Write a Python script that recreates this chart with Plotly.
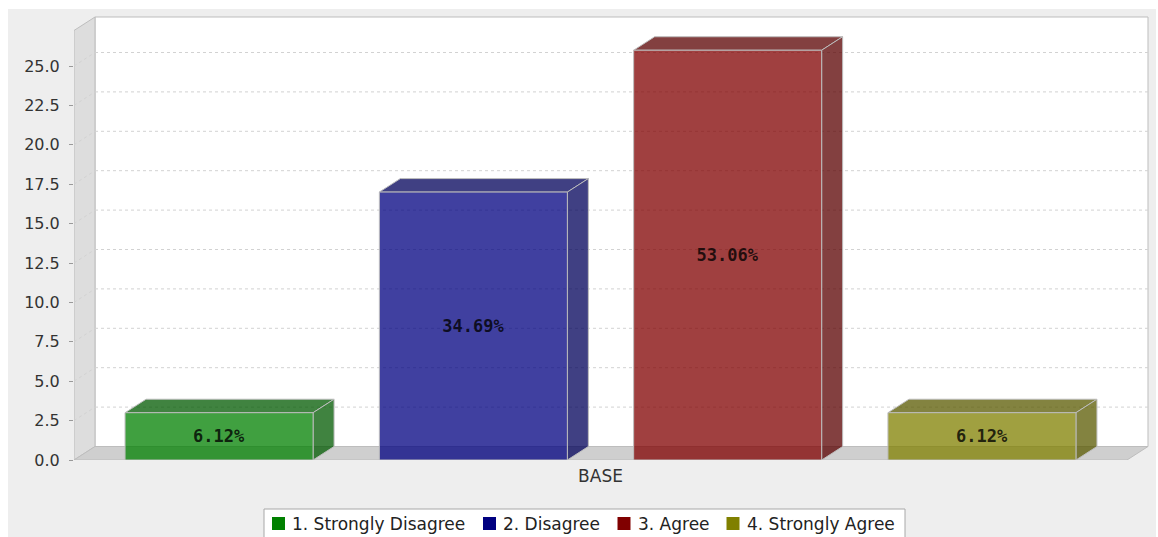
import plotly.graph_objects as go

# ---- data -------------------------------------------------------------
categories = ["1. Strongly Disagree", "2. Disagree", "3. Agree", "4. Strongly Agree"]
counts = [3, 17, 26, 3]
axis_category = "BASE"
series_rgb = [(0, 128, 0), (0, 0, 128), (128, 0, 0), (128, 128, 0)]
y_ticks = [0.0, 2.5, 5.0, 7.5, 10.0, 12.5, 15.0, 17.5, 20.0, 22.5, 25.0]

# ---- geometry ---------------------------------------------------------
FIG_W, FIG_H = 1158, 537
ML, MR, MT, MB = 74, 8, 15, 77
PW = FIG_W - ML - MR            # plot width in px (x axis runs in px units)
PH = FIG_H - MT - MB            # plot height in px
PX_PER_UNIT = 15.76             # vertical px per value unit
Y_MAX = PH / PX_PER_UNIT
DX = 21                         # 3D depth, horizontal (x units)
DY = 13.5 / PX_PER_UNIT         # 3D depth, vertical (value units)
WALL_RIGHT = PW - 2
WALL_TOP = (PH - 2) / PX_PER_UNIT
FRONT_W = WALL_RIGHT - DX
FRONT_TOP = WALL_TOP - DY
BAR_W = 188
STEP = 254.3
ALPHA = 0.75

total = sum(counts)
centers = [FRONT_W / 2 + (i - (len(counts) - 1) / 2) * STEP for i in range(len(counts))]
labels = [f"{c / total * 100:.2f}%" for c in counts]


def rgba(rgb, a=ALPHA, k=1.0):
    r, g, b = (int(v * k) for v in rgb)
    return f"rgba({r},{g},{b},{a})"


def px_x(p):
    return (p - ML) / PW


def px_y(p):
    return (FIG_H - MB - p) / PH


def poly(points):
    return "M " + " L ".join(f"{x},{y}" for x, y in points) + " Z"


EDGE = "#bdbdbd"
shapes = []

# outer chart panel
shapes.append(dict(type="rect", xref="paper", yref="paper", layer="below",
                   x0=px_x(8), x1=px_x(1156), y0=px_y(545), y1=px_y(9),
                   fillcolor="#eeeeee", line=dict(width=0)))
# back wall
shapes.append(dict(type="rect", xref="x", yref="y", layer="below",
                   x0=DX, x1=WALL_RIGHT, y0=DY, y1=WALL_TOP,
                   fillcolor="white", line=dict(color=EDGE, width=1)))
# left wall
shapes.append(dict(type="path", xref="x", yref="y", layer="below",
                   path=poly([(0, 0), (0, FRONT_TOP), (DX, WALL_TOP), (DX, DY)]),
                   fillcolor="#dddddd", line=dict(color=EDGE, width=1)))
# floor
shapes.append(dict(type="path", xref="x", yref="y", layer="below",
                   path=poly([(0, 0), (FRONT_W, 0), (FRONT_W + DX, DY), (DX, DY)]),
                   fillcolor="#cfcfcf", line=dict(color=EDGE, width=1)))
# dashed gridlines on the back wall and across the left wall
for v in y_ticks[1:]:
    shapes.append(dict(type="line", xref="x", yref="y", layer="below",
                       x0=DX, x1=WALL_RIGHT, y0=v + DY, y1=v + DY,
                       line=dict(color="#d2d2d2", width=1, dash="3px,3px")))
    shapes.append(dict(type="line", xref="x", yref="y", layer="below",
                       x0=0, x1=DX, y0=v, y1=v + DY,
                       line=dict(color="#d2d2d2", width=1, dash="3px,3px")))
# top and side faces of each bar
for cx, v, rgb in zip(centers, counts, series_rgb):
    x0, x1 = cx - BAR_W / 2, cx + BAR_W / 2
    dark = rgba(rgb, k=0.7)
    shapes.append(dict(type="path", xref="x", yref="y", layer="below",
                       path=poly([(x0, v), (x1, v), (x1 + DX, v + DY), (x0 + DX, v + DY)]),
                       fillcolor=dark, line=dict(color=EDGE, width=1)))
    shapes.append(dict(type="path", xref="x", yref="y", layer="below",
                       path=poly([(x1, 0), (x1, v), (x1 + DX, v + DY), (x1 + DX, DY)]),
                       fillcolor=dark, line=dict(color=EDGE, width=1)))

# legend box, swatches and labels
LEG_FONT = dict(family="DejaVu Sans", size=17, color="#222222")
shapes.append(dict(type="rect", xref="paper", yref="paper", layer="above",
                   x0=px_x(264), x1=px_x(905), y0=px_y(548), y1=px_y(509),
                   fillcolor="white", line=dict(color="#a8a8a8", width=1)))
annotations = []
swatch_left = [272, 483, 617.5, 726.5]
for name, rgb, sx in zip(categories, series_rgb, swatch_left):
    shapes.append(dict(type="rect", xref="paper", yref="paper", layer="above",
                       x0=px_x(sx), x1=px_x(sx + 13), y0=px_y(530), y1=px_y(517),
                       fillcolor=rgba(rgb, a=1), line=dict(width=0)))
    annotations.append(dict(xref="paper", yref="paper", x=px_x(sx + 19), y=px_y(523.5),
                            xanchor="left", yanchor="middle", text=name,
                            showarrow=False, font=LEG_FONT, borderpad=0))

fig = go.Figure()
fig.add_trace(go.Bar(
    x=centers, y=counts, width=BAR_W,
    marker=dict(color=[rgba(c) for c in series_rgb], line=dict(color=EDGE, width=1)),
    text=labels, textposition="inside", insidetextanchor="middle",
    textangle=0, constraintext="none",
    textfont=dict(family="DejaVu Sans Mono", size=17, weight="bold",
                  color="rgba(0,0,0,0.8)"),
    hoverinfo="skip", showlegend=False,
))

fig.update_layout(
    width=FIG_W, height=FIG_H, autosize=False,
    margin=dict(l=ML, r=MR, t=MT, b=MB, pad=0),
    paper_bgcolor="white", plot_bgcolor="rgba(0,0,0,0)",
    showlegend=False, shapes=shapes, annotations=annotations,
    xaxis=dict(range=[0, PW], showgrid=False, zeroline=False, showline=False,
               tickmode="array", tickvals=[FRONT_W / 2], ticktext=[axis_category],
               ticks="", ticklabelstandoff=4,
               tickfont=dict(family="DejaVu Sans", size=17, color="#333333"),
               fixedrange=True),
    yaxis=dict(range=[0, Y_MAX], showgrid=False, zeroline=False, showline=False,
               tickmode="array", tickvals=y_ticks,
               ticktext=[f"{t:.1f}" for t in y_ticks],
               ticks="outside", ticklen=4, tickcolor="#999999", tickwidth=1,
               ticklabelstandoff=6,
               tickfont=dict(family="DejaVu Sans", size=16, color="#333333"),
               fixedrange=True),
)

fig.write_html("out.html", config={"displayModeBar": False})
